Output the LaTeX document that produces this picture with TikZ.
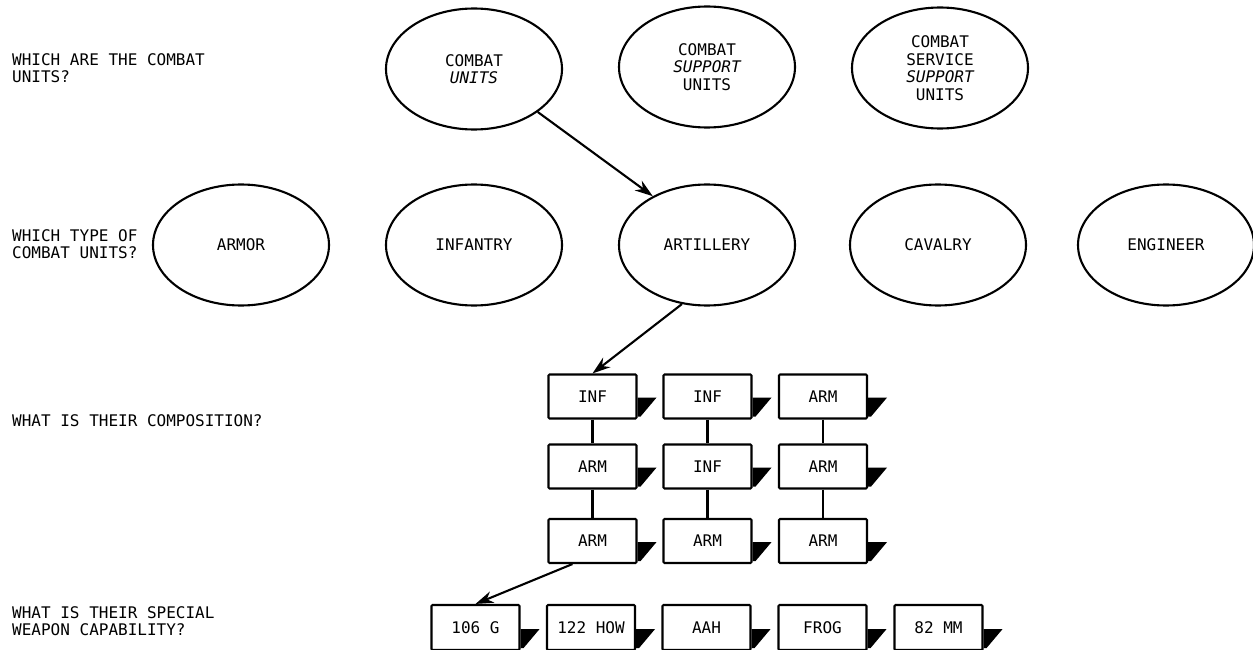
\documentclass[tikz,border=0pt]{standalone}
\usepackage{fontspec}
\setmonofont{DejaVu Sans Mono}
\usetikzlibrary{shapes.geometric,arrows.meta,calc}
\begin{document}
\begin{tikzpicture}[x=1pt,y=-1pt,
  every node/.style={font=\ttfamily\fontsize{16}{17.5}\selectfont},
  oval/.style={ellipse,draw,line width=2.1pt,minimum width=176pt,minimum height=121pt,inner sep=0pt,align=center},
  unitbox/.style={rectangle,draw,line width=2.1pt,rounded corners=1pt,minimum width=88pt,minimum height=44pt,inner sep=0pt},
  question/.style={anchor=west,align=left,inner sep=0pt},
  arr/.style={line width=2.1pt,-{Stealth[length=18pt,width=12pt]}},
  link/.style={line width=2.1pt},
  flagfill/.style={fill=black}]
\useasboundingbox (0,0) rectangle (1253,650);

% questions
\node[question] (q1) at (12,68) {WHICH ARE THE COMBAT\\UNITS?};
\node[question] (q2) at (12,244) {WHICH TYPE OF\\COMBAT UNITS?};
\node[question] (q3) at (12,421) {WHAT IS THEIR COMPOSITION?};
\node[question] (q4) at (12,621) {WHAT IS THEIR SPECIAL\\WEAPON CAPABILITY?};

% top row
\node[oval] (cu) at (474,69) {COMBAT\\{\itshape UNITS}};
\node[oval] (csu) at (707,67) {COMBAT\\{\itshape SUPPORT}\\UNITS};
\node[oval] (cssu) at (940,68) {COMBAT\\SERVICE\\{\itshape SUPPORT}\\UNITS};

% middle row
\node[oval] (arm) at (241,245) {ARMOR};
\node[oval] (inf) at (474,245) {INFANTRY};
\node[oval] (art) at (707,245) {ARTILLERY};
\node[oval] (cav) at (938,245) {CAVALRY};
\node[oval] (eng) at (1166,245) {ENGINEER};

% composition
\node[unitbox] (c11) at (592.5,396.5) {INF};
\node[unitbox] (c12) at (707.5,396.5) {INF};
\node[unitbox] (c13) at (823,396.5) {ARM};
\node[unitbox] (c21) at (592.5,466.5) {ARM};
\node[unitbox] (c22) at (707.5,466.5) {INF};
\node[unitbox] (c23) at (823,466.5) {ARM};
\node[unitbox] (c31) at (592.5,541) {ARM};
\node[unitbox] (c32) at (707.5,541) {ARM};
\node[unitbox] (c33) at (823,541) {ARM};

% weapons
\node[unitbox,minimum height=45pt] (b1) at (475.5,627.5) {106 G};
\node[unitbox,minimum height=45pt] (b2) at (591,627.5) {122 HOW};
\node[unitbox,minimum height=45pt] (b3) at (706.5,627.5) {AAH};
\node[unitbox,minimum height=45pt] (b4) at (822.5,627.5) {FROG};
\node[unitbox,minimum height=45pt] (b5) at (938.5,627.5) {82 MM};

% flags
\foreach \n in {c11,c12,c13,c21,c22,c23,c31,c32,c33,b1,b2,b3,b4,b5}{
  \fill[flagfill] ($(\n.south east)+(0,-3)$) -- ($(\n.south east)+(0,-22)$)
     -- ($(\n.south east)+(19,-22)$) -- ($(\n.south east)+(3,-3)$) -- cycle;
}

% links
\draw[link] (c11) -- (c21);
\draw[link] (c21) -- (c31);
\draw[link] (c12) -- (c22);
\draw[link] (c22) -- (c32);
\draw[link] (c13) -- (c23);
\draw[link] (c23) -- (c33);

% arrows
\draw[arr] (cu.-34) -- (art.138);
\draw[arr] (art.247) -- (c11.north);
\coordinate (c31out) at ($(c31.south west)+(25,0)$);
\draw[arr] (c31out) -- (b1.north);
\end{tikzpicture}
\end{document}
